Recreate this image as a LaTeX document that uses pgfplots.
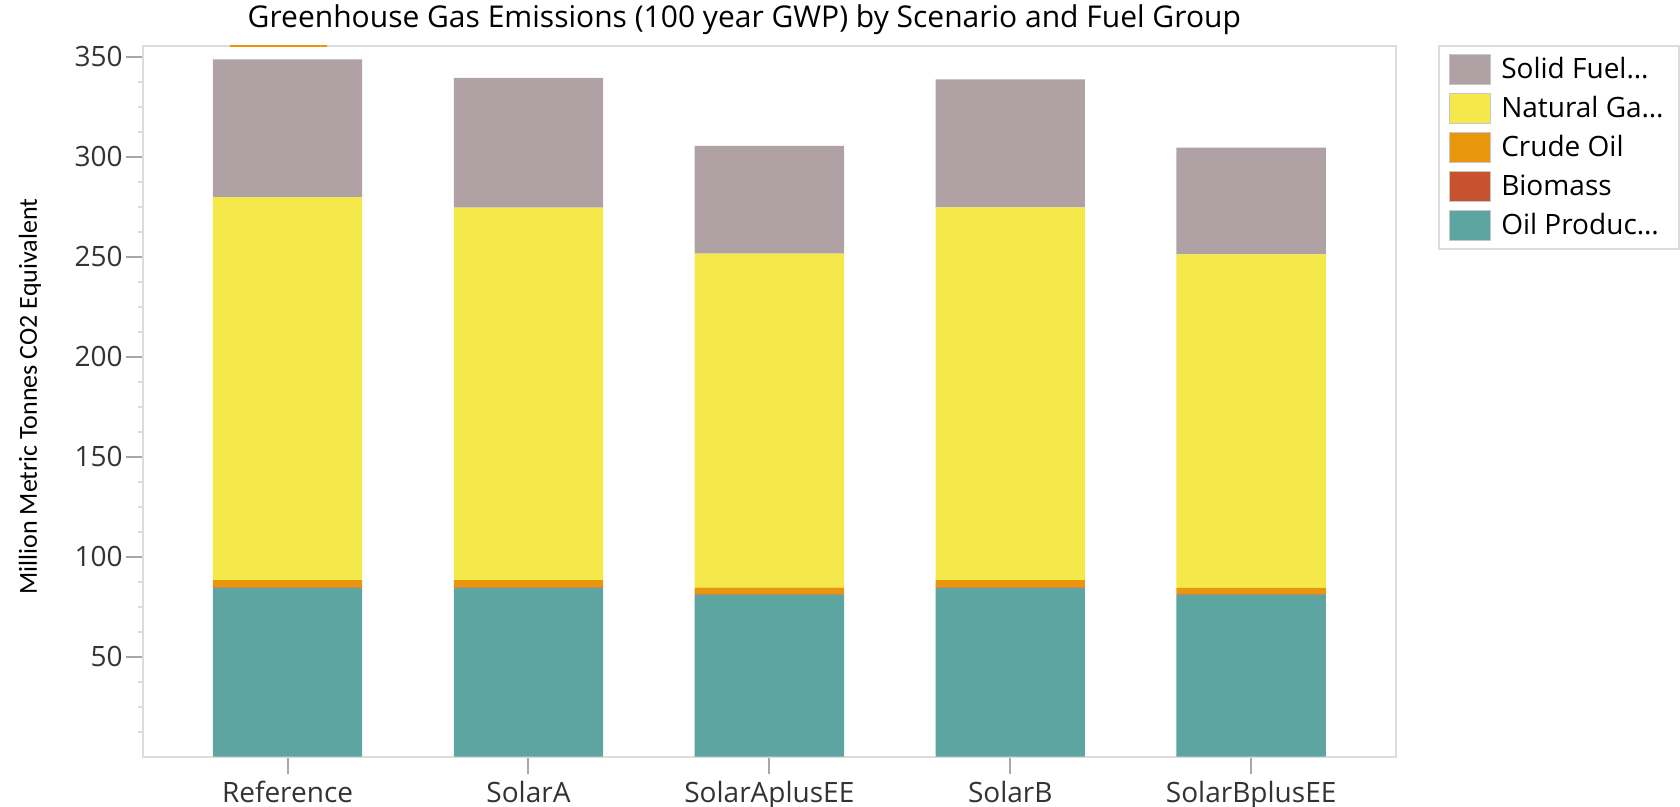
\documentclass[border=0pt]{standalone}
\usepackage{pgfplots}
\pgfplotsset{compat=1.18}
\usepackage{fontspec}
\setmainfont{Open Sans}
\newfontfamily\labfont{Carlito}
\definecolor{solid}{HTML}{B0A1A5}
\definecolor{gas}{HTML}{F5E84A}
\definecolor{crude}{HTML}{E8960C}
\definecolor{bio}{HTML}{C8522E}
\definecolor{oilp}{HTML}{5DA5A0}
\definecolor{axgray}{HTML}{DCDCDC}
\definecolor{tkgray}{HTML}{A8A8A8}
\pgfplotsset{mylegend/.style={legend image code/.code={\draw[##1,draw=black!22,line width=0.6pt] (0pt,-7.5pt) rectangle (20.5pt,7.5pt);}}}
\begin{document}
\begin{tikzpicture}[x=1pt,y=1pt]
\useasboundingbox (0,0) rectangle (840,403.5);
\begin{axis}[
  at={(71.5pt,25.15pt)}, anchor=south west,
  scale only axis, width=626.35pt, height=355.5pt,
  ybar stacked, bar width=0.62,
  xmin=-0.6, xmax=4.6, ymin=0, ymax=355.5,
  xtick={0,1,2,3,4},
  xticklabels={Reference,SolarA,SolarAplusEE,SolarB,SolarBplusEE},
  ytick={50,100,150,200,250,300,350},
  minor ytick={12.5,25,37.5,62.5,75,87.5,112.5,125,137.5,162.5,175,187.5,212.5,225,237.5,262.5,275,287.5,312.5,325,337.5},
  xtick pos=bottom, ytick pos=left,
  tick align=outside, major tick length=8.5pt, minor tick length=2.5pt,
  tick style={draw=tkgray, line width=1pt},
  minor tick style={draw=axgray, line width=1pt},
  axis line style={draw=axgray, line width=1pt},
  /pgf/number format/assume math mode=true,
  ticklabel style={font=\fontsize{14}{16}\selectfont, text=black!80},
  yticklabel style={inner sep=1.5pt},
  title={Greenhouse Gas Emissions (100 year GWP) by Scenario and Fuel Group},
  every axis title/.style={at={(axis description cs:0.480,1.036)}, anchor=center, font=\fontsize{15}{17}\selectfont},
  ylabel={Million Metric Tonnes CO2 Equivalent},
  every axis y label/.style={at={(axis description cs:-0.0902,0.5066)}, anchor=center, rotate=90, font=\labfont\fontsize{13}{15}\selectfont},
  clip=false,
  reverse legend,
  legend cell align=left,
  legend style={at={(axis description cs:1.0338,1.001)}, anchor=north west,
    draw=axgray, line width=1pt, inner xsep=5pt, inner ysep=2pt,
    font=\fontsize{14}{16}\selectfont,
    nodes={minimum height=19.5pt, inner ysep=0pt},
    /tikz/every odd column/.append style={column sep=3pt}},
]
\addplot[fill=oilp, draw=none, mylegend] coordinates {(0,84.3) (1,84.3) (2,80.9) (3,84.3) (4,80.9)};
\addlegendentry{\makebox[82pt][l]{Oil Produc\ldots}}
\addplot[fill=bio, draw=none, mylegend] coordinates {(0,0.3) (1,0.3) (2,0.3) (3,0.3) (4,0.3)};
\addlegendentry{Biomass}
\addplot[fill=crude, draw=none, mylegend] coordinates {(0,3.7) (1,3.7) (2,3.3) (3,3.7) (4,3.2)};
\addlegendentry{Crude Oil}
\addplot[fill=gas, draw=none, mylegend] coordinates {(0,191.5) (1,186.2) (2,167.0) (3,186.4) (4,166.7)};
\addlegendentry{Natural Ga\ldots}
\addplot[fill=solid, draw=none, mylegend] coordinates {(0,68.8) (1,64.9) (2,53.9) (3,63.9) (4,53.4)};
\addlegendentry{Solid Fuel\ldots}
\draw[color=crude, line width=1pt] (axis description cs:0.0694,1) -- (axis description cs:0.1466,1);
\end{axis}
\end{tikzpicture}
\end{document}
